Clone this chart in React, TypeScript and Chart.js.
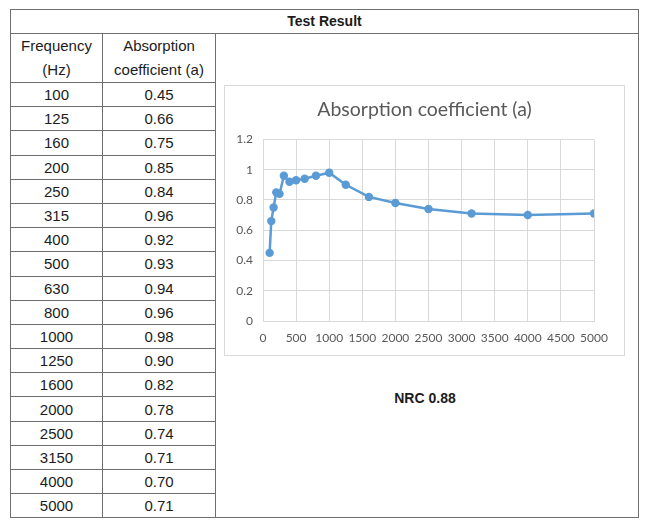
import React, { useEffect, useRef } from "react";
import { Chart, registerables } from "chart.js";

Chart.register(...registerables);

// Measured absorption per one-third-octave band
const frequencies = [100, 125, 160, 200, 250, 315, 400, 500, 630, 800, 1000, 1250, 1600, 2000, 2500, 3150, 4000, 5000];
const absorption = [0.45, 0.66, 0.75, 0.85, 0.84, 0.96, 0.92, 0.93, 0.94, 0.96, 0.98, 0.9, 0.82, 0.78, 0.74, 0.71, 0.7, 0.71];
const nrcValue = 0.88;

const tableTitle = "Test Result";
const freqHeader = ["Frequency", "(Hz)"];
const coefHeader = ["Absorption", "coefficient (a)"];
const chartTitle = "Absorption coefficient (a)";

const CHART_FONT = "Lato, 'Open Sans', sans-serif";
const TABLE_FONT = "'Liberation Sans', Arial, sans-serif";
const LINE = "1px solid #6f6f6f";

function AbsorptionChart() {
  const ref = useRef<HTMLCanvasElement | null>(null);
  useEffect(() => {
    if (!ref.current) return;
    const chart = new Chart(ref.current, {
      type: "line",
      data: {
        datasets: [
          {
            data: frequencies.map((f, i) => ({ x: f, y: absorption[i] })),
            borderColor: "#5B9BD5",
            backgroundColor: "#5B9BD5",
            borderWidth: 2.5,
            pointRadius: 4.2,
            pointBorderWidth: 0,
            tension: 0,
          },
        ],
      },
      options: {
        animation: false,
        responsive: false,
        maintainAspectRatio: false,
        layout: { padding: 0 },
        plugins: {
          legend: { display: false },
          tooltip: { enabled: false },
          title: {
            display: true,
            text: chartTitle,
            color: "#595959",
            font: { family: CHART_FONT, size: 19.5, weight: "normal" },
            padding: { top: 12, bottom: 18 },
          },
        },
        scales: {
          x: {
            type: "linear",
            min: 0,
            max: 5000,
            ticks: {
              stepSize: 500,
              autoSkip: false,
              maxRotation: 0,
              color: "#595959",
              padding: 10,
              font: { family: CHART_FONT, size: 12 },
              callback: (v: any) => String(v),
            },
            grid: { color: "#d9d9d9", drawTicks: false },
            border: { color: "#d9d9d9" },
            afterFit: (s: any) => {
              s.height = 34;
            },
          },
          y: {
            min: 0,
            max: 1.2,
            ticks: {
              stepSize: 0.2,
              color: "#595959",
              padding: 10,
              font: { family: CHART_FONT, size: 12 },
              callback: (v: any) => String(Math.round(Number(v) * 10) / 10),
            },
            grid: { color: "#d9d9d9", drawTicks: false },
            border: { display: false },
            afterFit: (s: any) => {
              s.width = 38;
            },
          },
          // empty right-hand gutter so the plot sits left while the title stays centred
          gutter: {
            type: "linear",
            position: "right",
            min: 0,
            max: 1,
            ticks: { display: false },
            grid: { display: false, drawTicks: false },
            border: { display: false },
            afterFit: (s: any) => {
              s.width = 30;
            },
          },
        },
      },
    });
    return () => chart.destroy();
  }, []);
  return <canvas ref={ref} width={399} height={269} style={{ display: "block" }} />;
}

export default function App() {
  const cell: React.CSSProperties = {
    border: LINE,
    padding: 0,
    textAlign: "center",
    height: 23.2,
    lineHeight: "23px",
  };
  return (
    <div
      style={{
        position: "absolute",
        left: 10,
        top: 9,
        width: 628,
        height: 509,
        fontFamily: TABLE_FONT,
        fontSize: 15,
        color: "#1c1c1c",
      }}
    >
      <table
        style={{
          borderCollapse: "collapse",
          tableLayout: "fixed",
          width: 628,
          border: LINE,
        }}
      >
        <colgroup>
          <col style={{ width: 92 }} />
          <col style={{ width: 113 }} />
          <col style={{ width: 423 }} />
        </colgroup>
        <tbody>
          <tr>
            <td colSpan={3} style={{ ...cell, height: 23, fontWeight: "bold", fontSize: 14 }}>
              {tableTitle}
            </td>
          </tr>
          <tr>
            <td style={{ ...cell, height: 46, lineHeight: "24px" }}>
              {freqHeader[0]}
              <br />
              {freqHeader[1]}
            </td>
            <td style={{ ...cell, height: 46, lineHeight: "24px" }}>
              {coefHeader[0]}
              <br />
              {coefHeader[1]}
            </td>
            <td rowSpan={frequencies.length + 1} style={{ border: LINE, padding: 0 }} />
          </tr>
          {frequencies.map((f, i) => (
            <tr key={f}>
              <td style={cell}>{f}</td>
              <td style={cell}>{absorption[i].toFixed(2)}</td>
            </tr>
          ))}
        </tbody>
      </table>
      <div
        style={{
          position: "absolute",
          left: 214,
          top: 76,
          width: 399,
          height: 269,
          border: "1px solid #d9d9d9",
          background: "#fff",
        }}
      >
        <AbsorptionChart />
      </div>
      <div
        style={{
          position: "absolute",
          left: 315,
          top: 380,
          width: 200,
          textAlign: "center",
          fontWeight: "bold",
          fontSize: 14,
          lineHeight: "18px",
        }}
      >
        NRC {nrcValue.toFixed(2)}
      </div>
    </div>
  );
}
